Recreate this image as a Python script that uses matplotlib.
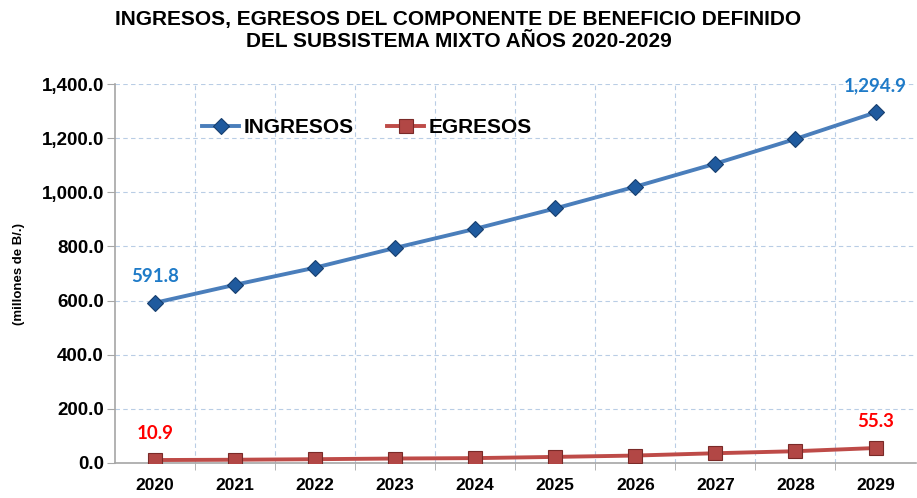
import matplotlib
matplotlib.use("Agg")
import matplotlib.pyplot as plt
from matplotlib.ticker import FuncFormatter

# Datos (millones de B/.)
years = ["2020", "2021", "2022", "2023", "2024", "2025", "2026", "2027", "2028", "2029"]
ingresos = [591.8, 658.4, 721.6, 794.5, 865.0, 940.4, 1020.7, 1105.8, 1197.0, 1294.9]
egresos = [10.9, 12.0, 14.0, 16.5, 18.0, 22.5, 27.5, 36.0, 43.5, 55.3]

title = "INGRESOS, EGRESOS DEL COMPONENTE DE BENEFICIO DEFINIDO\nDEL SUBSISTEMA MIXTO AÑOS 2020-2029"
ylabel = "(millones de B/.)"

blue_line = "#4A7EBB"
blue_mark = "#1F5A9E"
blue_txt = "#1F7BC8"
red_line = "#BE4B48"
red_mark = "#B24745"
red_txt = "#FF0000"
grid_col = "#B9CDE5"

plt.rcParams['font.family'] = ['Liberation Sans', 'DejaVu Sans']

fig = plt.figure(figsize=(9.17, 4.98), dpi=100)
ax = fig.add_axes([0.1254, 0.0703, 0.873, 0.761])

x = list(range(len(years)))
ax.plot(x, ingresos, color=blue_line, lw=2.8, marker='D', markersize=8,
        markerfacecolor=blue_mark, markeredgecolor="#173F6E", markeredgewidth=0.8,
        label="INGRESOS", zorder=3)
ax.plot(x, egresos, color=red_line, lw=2.8, marker='s', markersize=10,
        markerfacecolor=red_mark, markeredgecolor="#7A2A28", markeredgewidth=0.8,
        label="EGRESOS", zorder=3)

# etiquetas de primer y último valor
for i in (0, len(years) - 1):
    ax.annotate(f"{ingresos[i]:,.1f}", (x[i], ingresos[i]), xytext=(0, 19),
                textcoords='offset points', ha='center', va='center',
                color=blue_txt, fontsize=13.5, fontweight='bold', family='Lato')
    ax.annotate(f"{egresos[i]:,.1f}", (x[i], egresos[i]), xytext=(0, 19),
                textcoords='offset points', ha='center', va='center',
                color=red_txt, fontsize=13.5, fontweight='bold', family='Lato')

ax.set_xlim(-0.5, len(years) - 0.5)
ax.set_ylim(0, 1400)
ax.set_yticks(range(0, 1401, 200))
ax.yaxis.set_major_formatter(FuncFormatter(lambda v, p: f"{v:,.1f}"))
ax.set_xticks(x)
ax.set_xticklabels(years)
ax.set_xticks([i + 0.5 for i in x[:-1]], minor=True)

ax.grid(axis='y', which='major', color=grid_col, linestyle=(0, (4, 3)), lw=0.8)
ax.grid(axis='x', which='minor', color=grid_col, linestyle=(0, (4, 3)), lw=0.8)
ax.set_axisbelow(True)

for s in ('top', 'right'):
    ax.spines[s].set_visible(False)
ax.spines['left'].set_color('#A6A6A6')
ax.spines['bottom'].set_color('#A6A6A6')
ax.spines['left'].set_linewidth(1.2)
ax.spines['bottom'].set_linewidth(1.2)

ax.tick_params(axis='y', which='major', length=6, color='#A6A6A6', labelsize=13.5, pad=2)
ax.tick_params(axis='x', which='major', length=0, labelsize=12.5, pad=11)
ax.tick_params(axis='x', which='minor', length=5, color='#A6A6A6', direction='out')
for lab in ax.get_xticklabels() + ax.get_yticklabels():
    lab.set_fontweight('bold')

ax.set_ylabel(ylabel, fontsize=9.5, fontweight='bold', labelpad=12)

leg = ax.legend(loc='upper left', bbox_to_anchor=(0.085, 0.96), ncol=2, frameon=False,
                prop={'size': 15, 'weight': 'bold'}, handlelength=1.8,
                columnspacing=1.6, handletextpad=0.2)

fig.suptitle(title, fontsize=15, fontweight='bold', y=0.98, x=0.5, linespacing=1.2)

fig.savefig("out.png", dpi=100)
